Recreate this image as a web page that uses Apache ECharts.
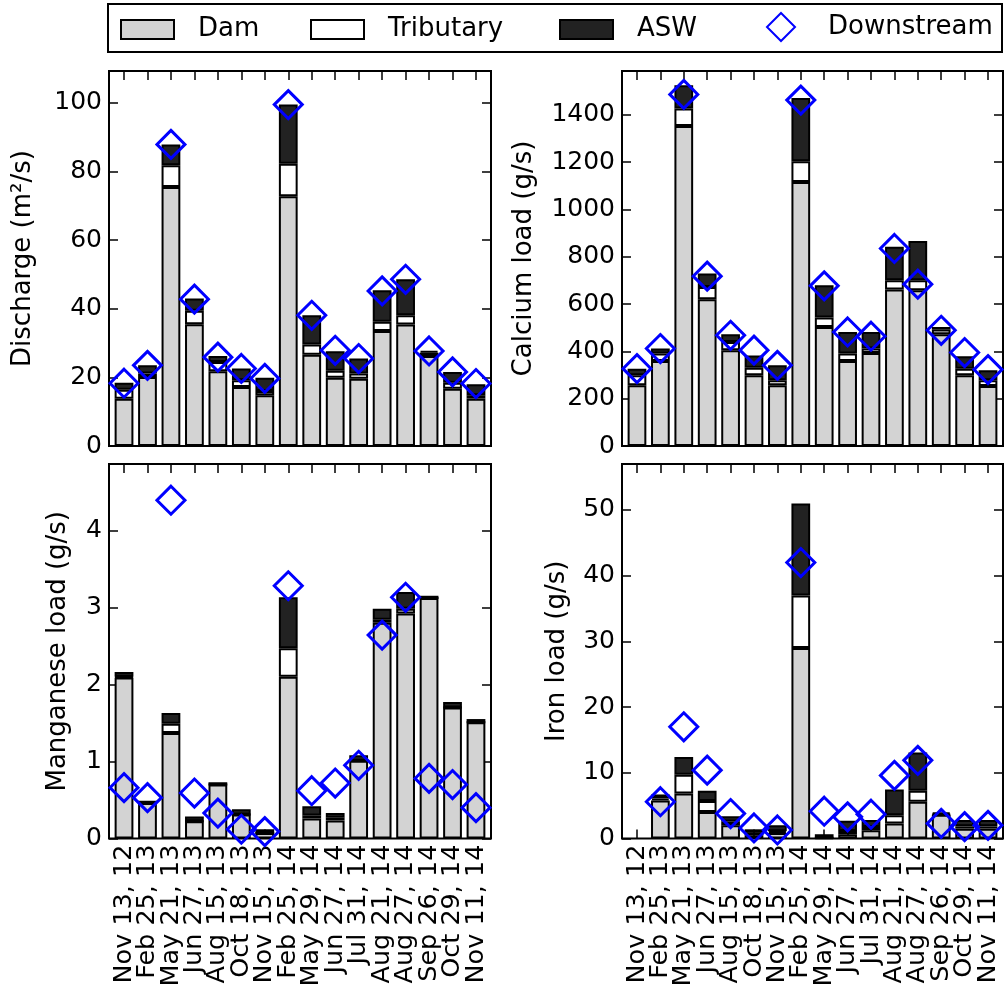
<!DOCTYPE html>
<html><head><meta charset="utf-8">
<script src="https://cdn.jsdelivr.net/npm/echarts@6/dist/echarts.min.js"></script>
<style>html,body{margin:0;padding:0;background:#fff}#c{width:1005px;height:998px}</style>
</head><body><div id="c"></div>
<script>
// ---- data ----
const categories = ['Nov 13, 12','Feb 25, 13','May 21, 13','Jun 27, 13','Aug 15, 13','Oct 18, 13','Nov 15, 13','Feb 25, 14','May 29, 14','Jun 27, 14','Jul 31, 14','Aug 21, 14','Aug 27, 14','Sep 26, 14','Oct 29, 14','Nov 11, 14'];

// stacked segment heights
const dischargeDam  = [13.8, 20.1, 75.5, 35.5, 21.8, 17.2, 14.8, 72.8, 26.6, 19.9, 19.6, 33.5, 35.4, 26.2, 16.7, 13.8];
const dischargeTrib = [2.6, 1.0, 6.3, 3.9, 2.7, 2.0, 1.2, 9.5, 3.0, 2.0, 1.5, 2.7, 2.7, 1.0, 1.7, 1.0];
const dischargeAsw  = [2.0, 2.4, 6.1, 3.6, 1.7, 3.4, 3.9, 17.2, 8.5, 5.7, 4.4, 9.2, 10.5, 0.5, 3.2, 3.2];
const dischargeDown = [18.3, 23.5, 87.9, 42.8, 25.9, 22.6, 19.7, 99.5, 38.1, 27.9, 25.5, 45.2, 48.6, 27.7, 21.6, 18.2];

const calciumDam  = [257, 359, 1353, 620, 405, 299, 257, 1116, 503, 359, 393, 661, 658, 472, 299, 254];
const calciumTrib = [42, 32, 74, 52, 35, 32, 21, 88, 40, 32, 19, 40, 43, 20, 28, 24];
const calciumAsw  = [28, 21, 98, 57, 32, 52, 63, 267, 136, 91, 70, 141, 165, 11, 52, 42];
const calciumDown = [327, 412, 1486, 718, 468, 405, 341, 1462, 677, 482, 464, 835, 684, 489, 395, 323];

const manganeseDam  = [2.09, 0.46, 1.37, 0.225, 0.70, 0.31, 0.07, 2.10, 0.26, 0.235, 1.01, 2.80, 2.92, 3.12, 1.70, 1.51];
const manganeseTrib = [0.01, 0.0, 0.12, 0.0, 0.0, 0.0, 0.0, 0.37, 0.04, 0.035, 0.0, 0.04, 0.06, 0.0, 0.0, 0.0];
const manganeseAsw  = [0.06, 0.03, 0.14, 0.06, 0.03, 0.07, 0.05, 0.66, 0.12, 0.06, 0.07, 0.14, 0.22, 0.03, 0.07, 0.04];
const manganeseDown = [0.66, 0.53, 4.39, 0.59, 0.33, 0.12, 0.09, 3.28, 0.62, 0.72, 0.95, 2.64, 3.13, 0.78, 0.70, 0.40];

const ironDam  = [null, 5.8, 6.85, 4.05, 2.0, 0.5, 0.85, 29.0, 0.1, 0.65, 1.26, 2.3, 5.6, 3.6, 1.5, 1.5];
const ironTrib = [null, 0.3, 2.85, 1.65, 0.6, 0.35, 0.25, 8.0, 0.0, 0.5, 0.5, 1.25, 1.65, 0.1, 0.35, 0.35];
const ironAsw  = [null, 0.6, 2.7, 1.55, 0.8, 0.55, 0.9, 14.0, 0.55, 1.55, 1.05, 3.9, 5.85, 0.25, 0.95, 0.95];
const ironDown = [null, 5.6, 17.0, 10.4, 3.8, 1.6, 1.3, 42.0, 4.15, 3.3, 3.7, 9.6, 11.9, 2.3, 1.8, 2.0];

const seriesNames = ['Dam', 'Tributary', 'ASW', 'Downstream'];

// ---- layout / style ----
const FONT = 'DejaVu Sans';
const panels = [
  {title: 'Discharge (m\u00b2/s)', d: [dischargeDam, dischargeTrib, dischargeAsw, dischargeDown], max: 109.3, interval: 20,
   frame: {left: 109, top: 71, width: 382, height: 375}, nameGap: 73, showX: false},
  {title: 'Calcium load (g/s)', d: [calciumDam, calciumTrib, calciumAsw, calciumDown], max: 1585, interval: 200,
   frame: {left: 622, top: 71, width: 381, height: 375}, nameGap: 85, showX: false},
  {title: 'Manganese load (g/s)', d: [manganeseDam, manganeseTrib, manganeseAsw, manganeseDown], max: 4.86, interval: 1,
   frame: {left: 109, top: 464, width: 382, height: 374.5}, nameGap: 38, showX: true},
  {title: 'Iron load (g/s)', d: [ironDam, ironTrib, ironAsw, ironDown], max: 57, interval: 10,
   frame: {left: 622, top: 464, width: 381, height: 374.5}, nameGap: 52, showX: true}
];
const barColors = ['#d3d3d3', '#ffffff', '#222222'];

const grid = [], xAxis = [], yAxis = [], series = [];
panels.forEach((p, i) => {
  const f = p.frame;
  const spacing = f.width / 16.28;
  const inset = (f.width - 16 * spacing) / 2;
  grid.push({left: f.left, top: f.top, width: f.width, height: f.height, show: true,
             borderColor: '#000', borderWidth: 2, backgroundColor: 'transparent'});
  grid.push({left: f.left + inset, top: f.top, width: f.width - 2 * inset, height: f.height});
  const fg = 2 * i, bg = 2 * i + 1;
  const tick = {show: true, inside: true, length: 9, interval: 0, alignWithLabel: true, lineStyle: {color: '#000', width: 1.5}};
  xAxis.push({gridIndex: fg, type: 'value', show: false, min: 0, max: 1});
  xAxis.push({gridIndex: bg, type: 'category', data: categories, position: 'bottom',
    axisLine: {show: false}, axisTick: tick, splitLine: {show: false},
    axisLabel: {show: p.showX, rotate: 90, interval: 0, margin: 6, fontSize: 25.5, color: '#000', fontFamily: FONT}});
  xAxis.push({gridIndex: bg, type: 'category', data: categories, position: 'top',
    axisLine: {show: false}, axisTick: tick, axisLabel: {show: false}, splitLine: {show: false}});
  const ytick = {show: true, inside: true, length: 9, lineStyle: {color: '#000', width: 1.5}};
  yAxis.push({gridIndex: fg, type: 'value', min: 0, max: p.max, interval: p.interval, position: 'left',
    axisLine: {show: false}, axisTick: ytick, splitLine: {show: false},
    axisLabel: {fontSize: 25, margin: 7, color: '#000', fontFamily: FONT, showMaxLabel: false,
                formatter: v => String(v)},
    name: p.title, nameLocation: 'middle', nameGap: p.nameGap,
    nameTextStyle: {fontSize: 26, color: '#000', fontFamily: FONT}});
  yAxis.push({gridIndex: fg, type: 'value', min: 0, max: p.max, interval: p.interval, position: 'right',
    axisLine: {show: false}, axisTick: ytick, splitLine: {show: false}, axisLabel: {show: false}});
  yAxis.push({gridIndex: bg, type: 'value', min: 0, max: p.max, show: false, splitLine: {show: false}});
  const xi = 3 * i + 1, yi = 3 * i + 2;
  for (let k = 0; k < 3; k++) {
    series.push({name: seriesNames[k], type: 'bar', stack: 'p' + i, xAxisIndex: xi, yAxisIndex: yi,
      data: p.d[k], barWidth: '80%',
      itemStyle: {color: barColors[k], borderColor: '#000', borderWidth: 2}});
  }
  series.push({name: 'Downstream', type: 'scatter', xAxisIndex: xi, yAxisIndex: yi, data: p.d[3],
    symbol: 'diamond', symbolSize: 28, z: 5,
    itemStyle: {color: 'rgba(0,0,0,0)', borderColor: '#0000ff', borderWidth: 3, opacity: 1}});
});

const legTS = pad => ({fontSize: 26, color: '#000', fontFamily: FONT, padding: [0, 0, 0, pad]});
const legend = [
  {data: [{name: 'Dam', icon: 'rect'}], left: 120, top: 16.5, itemWidth: 53, itemHeight: 19, padding: 0, selectedMode: false, textStyle: legTS(19)},
  {data: [{name: 'Tributary', icon: 'rect'}], left: 310, top: 16.5, itemWidth: 53, itemHeight: 19, padding: 0, selectedMode: false, textStyle: legTS(19)},
  {data: [{name: 'ASW', icon: 'rect'}], left: 559, top: 16.5, itemWidth: 53, itemHeight: 19, padding: 0, selectedMode: false, textStyle: legTS(19)},
  {data: [{name: 'Downstream', icon: 'diamond'}], left: 766, top: 12, itemWidth: 28, itemHeight: 28, padding: 0, selectedMode: false, textStyle: legTS(28)}
];

const chart = echarts.init(document.getElementById('c'), null, {renderer: 'canvas'});
chart.setOption({
  animation: false,
  backgroundColor: '#fff',
  grid, xAxis, yAxis, series, legend,
  graphic: [{type: 'rect', shape: {x: 108, y: 4, width: 894, height: 48}, style: {fill: 'none', stroke: '#000', lineWidth: 2}, silent: true}]
});
</script></body></html>
